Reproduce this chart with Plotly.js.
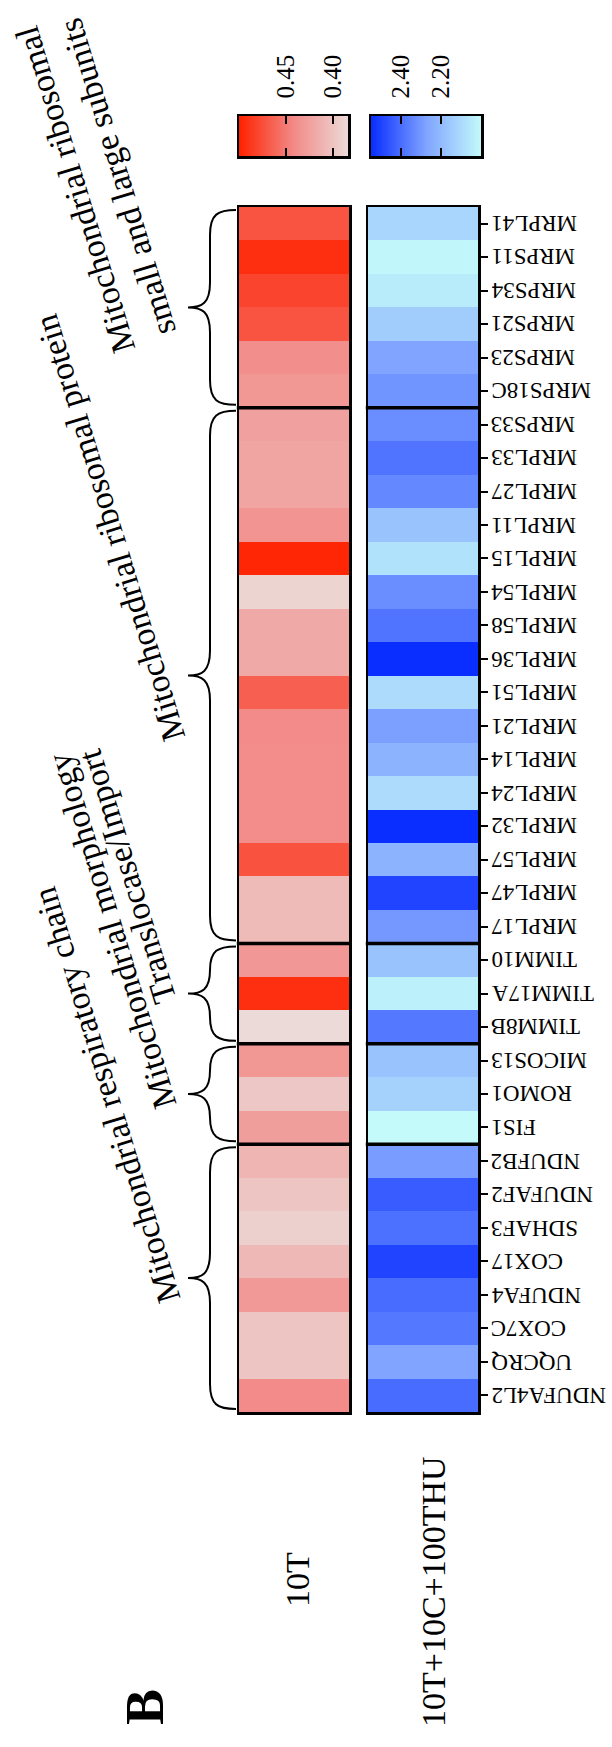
<!DOCTYPE html>
<html><head><meta charset="utf-8">
<script src="https://cdn.plot.ly/plotly-3.0.1.min.js"></script>
<style>html,body{margin:0;padding:0;background:#fff}#chart{width:612px;height:1747px}</style>
</head><body><div id="chart"></div>
<script>
// ---- data (top row first, as drawn) ----
const genes = ['MRPL41','MRPS11','MRPS34','MRPS21','MRPS23','MRPS18C',
  'MRPS33','MRPL33','MRPL27','MRPL11','MRPL15','MRPL54','MRPL58','MRPL36','MRPL51','MRPL21','MRPL14','MRPL24','MRPL32','MRPL57','MRPL47','MRPL17',
  'TIMM10','TIMM17A','TIMM8B',
  'MICOS13','ROMO1','FIS1',
  'NDUFB2','NDUFAF2','SDHAF3','COX17','NDUFA4','COX7C','UQCRQ','NDUFA4L2'];
const groupNames = ['Mitochondrial ribosomal<br>small and large subunits','Mitochondrial ribosomal protein',
  'Translocase/Import','Mitochondrial morphology','Mitochondrial respiratory chain'];
const groupSizes = [6,16,3,3,8];
const conditions = ['10T','10T+10C+100THU'];
const values10T = [0.472,0.493,0.481,0.472,0.439,0.433,
  0.426,0.423,0.423,0.435,0.498,0.389,0.420,0.420,0.466,0.441,0.440,0.440,0.440,0.473,0.407,0.407,
  0.432,0.493,0.385,
  0.433,0.398,0.428,
  0.411,0.400,0.392,0.409,0.431,0.400,0.400,0.441];
const valuesTHU = [2.115,2.011,2.044,2.143,2.275,2.310,
  2.326,2.386,2.340,2.177,2.077,2.326,2.386,2.550,2.099,2.284,2.226,2.099,2.550,2.226,2.499,2.303,
  2.177,2.033,2.377,
  2.177,2.129,2.000,
  2.294,2.443,2.396,2.499,2.405,2.377,2.275,2.405];
const redTicks = [0.45, 0.40];
const blueTicks = [2.40, 2.20];
const redRange = [0.384, 0.500];
const blueRange = [2.000, 2.550];

// ---- styling ----
const FONT = 'Liberation Serif, Times New Roman, serif';
const W = 612, H = 1747;
const redScale = [[0,'#EBDBD8'],[0.5,'#F28A88'],[1,'#FF2200']];
const blueScale = [[0,'#C4FAFA'],[0.5,'#80A4FF'],[1,'#0A2EFF']];
const px = v => v / W, py = v => 1 - v / H;
const topPx = 207, botPx = 1412;
const rowH = (botPx - topPx) / genes.length;

const traces = [
  {type:'heatmap', x:[conditions[0]], y:genes, z:values10T.map(v=>[v]), colorscale:redScale,
   zmin:redRange[0], zmax:redRange[1], showscale:false, xaxis:'x', yaxis:'y', hoverinfo:'skip'},
  {type:'heatmap', x:[conditions[1]], y:genes, z:valuesTHU.map(v=>[v]), colorscale:blueScale,
   zmin:blueRange[0], zmax:blueRange[1], showscale:false, xaxis:'x2', yaxis:'y2', hoverinfo:'skip'},
  // colour keys drawn through their own value axes
  {type:'heatmap', x:redRange, y:[0], z:[redRange], colorscale:redScale, zmin:redRange[0], zmax:redRange[1],
   zsmooth:'best', showscale:false, xaxis:'x3', yaxis:'y3', hoverinfo:'skip'},
  {type:'heatmap', x:blueRange, y:[0], z:[blueRange], colorscale:blueScale, zmin:blueRange[0], zmax:blueRange[1],
   zsmooth:'best', showscale:false, xaxis:'x4', yaxis:'y4', hoverinfo:'skip'}
];

const boxAxis = {showline:true, mirror:true, linecolor:'#000', linewidth:2.5, showgrid:false, zeroline:false, fixedrange:true};
const hmY = Object.assign({}, boxAxis, {domain:[py(botPx), py(topPx)], type:'category', autorange:'reversed', showticklabels:false, ticks:''});
const keyX = (rng, ticks, d0, d1) => Object.assign({}, boxAxis, {
  domain:[px(d0), px(d1)], range:[rng[1], rng[0]], side:'top', ticks:'inside', mirror:'ticks',
  tickvals:ticks, ticktext:ticks.map(t=>t.toFixed(2)), ticklen:8, tickwidth:2, tickcolor:'#000',
  tickangle:-90, ticklabelstandoff:10, tickfont:{family:FONT, size:25, color:'#000'}});
const keyY = Object.assign({}, boxAxis, {domain:[py(156), py(116)], range:[-0.5,0.5], showticklabels:false, ticks:''});

const layout = {
  width:W, height:H, margin:{l:0,r:0,t:0,b:0}, paper_bgcolor:'#fff', plot_bgcolor:'#fff', showlegend:false,
  font:{family:FONT, color:'#000'},
  xaxis: Object.assign({}, boxAxis, {domain:[px(239), px(349)], showticklabels:false, ticks:''}),
  xaxis2: Object.assign({}, boxAxis, {domain:[px(368), px(478)], showticklabels:false, ticks:''}),
  yaxis: Object.assign({}, hmY, {anchor:'x'}),
  yaxis2: Object.assign({}, hmY, {anchor:'x2', side:'right', ticks:'outside', ticklen:7, tickwidth:2, tickcolor:'#000'}),
  xaxis3: Object.assign(keyX(redRange, redTicks, 239, 348), {anchor:'y3'}),
  yaxis3: Object.assign({}, keyY, {anchor:'x3'}),
  xaxis4: Object.assign(keyX(blueRange, blueTicks, 371, 481), {anchor:'y4'}),
  yaxis4: Object.assign({}, keyY, {anchor:'x4'}),
  shapes: [], annotations: []
};

// gene labels (upside down, right of the blue column)
genes.forEach(g => layout.annotations.push({xref:'paper', yref:'y2', x:px(489), y:g, xanchor:'left', yanchor:'middle',
  text:g, textangle:180, showarrow:false, font:{family:FONT, size:23, color:'#000'}}));

// condition labels
layout.annotations.push({xref:'x', yref:'paper', x:conditions[0], y:py(1580), xanchor:'center', yanchor:'middle',
  text:conditions[0], textangle:-90, showarrow:false, font:{family:FONT, size:34}, xshift:3});
layout.annotations.push({xref:'x2', yref:'paper', x:conditions[1], y:py(1592), xanchor:'center', yanchor:'middle',
  text:conditions[1], textangle:-90, showarrow:false, font:{family:FONT, size:34}, xshift:10});
layout.annotations.push({xref:'paper', yref:'paper', x:px(145), y:py(1707), xanchor:'center', yanchor:'middle',
  text:'<b>B</b>', textangle:-90, showarrow:false, font:{family:FONT, size:54}});

// group separators and braces
const labelAnchor = [[187,360],[195,748],[186,1010],[186,1115],[190,1310]];
let start = 0;
groupSizes.forEach((n, gi) => {
  const yt = topPx + start*rowH, yb = topPx + (start+n)*rowH, ym = (yt+yb)/2;
  if (start > 0) {
    ['x','x2'].forEach(ax => layout.shapes.push({type:'line', xref:ax+' domain', yref:'paper',
      x0:-0.02, x1:1.02, y0:py(yt), y1:py(yt), line:{color:'#000', width:3.5}}));
  }
  const a = yt+3, b = yb-3, r = Math.min(25, (b-a)/4);
  const P = (x,y) => px(x)+','+py(y);
  const path = 'M'+P(236,a)+' C'+P(218,a)+' '+P(210,a+4)+' '+P(210,a+r)+
    ' L'+P(210,ym-r)+' C'+P(210,ym-4)+' '+P(202,ym)+' '+P(188,ym)+
    ' C'+P(202,ym)+' '+P(210,ym+4)+' '+P(210,ym+r)+
    ' L'+P(210,b-r)+' C'+P(210,b-4)+' '+P(218,b)+' '+P(236,b);
  layout.shapes.push({type:'path', xref:'paper', yref:'paper', path:path, line:{color:'#000', width:2}});
  layout.annotations.push({xref:'paper', yref:'paper', x:px(labelAnchor[gi][0]), y:py(labelAnchor[gi][1]),
    xanchor:'right', yanchor:'bottom', text:groupNames[gi], textangle:-107, showarrow:false,
    font:{family:FONT, size:34, color:'#000'}});
  start += n;
});

Plotly.newPlot('chart', traces, layout, {staticPlot:true, displayModeBar:false});
</script></body></html>
